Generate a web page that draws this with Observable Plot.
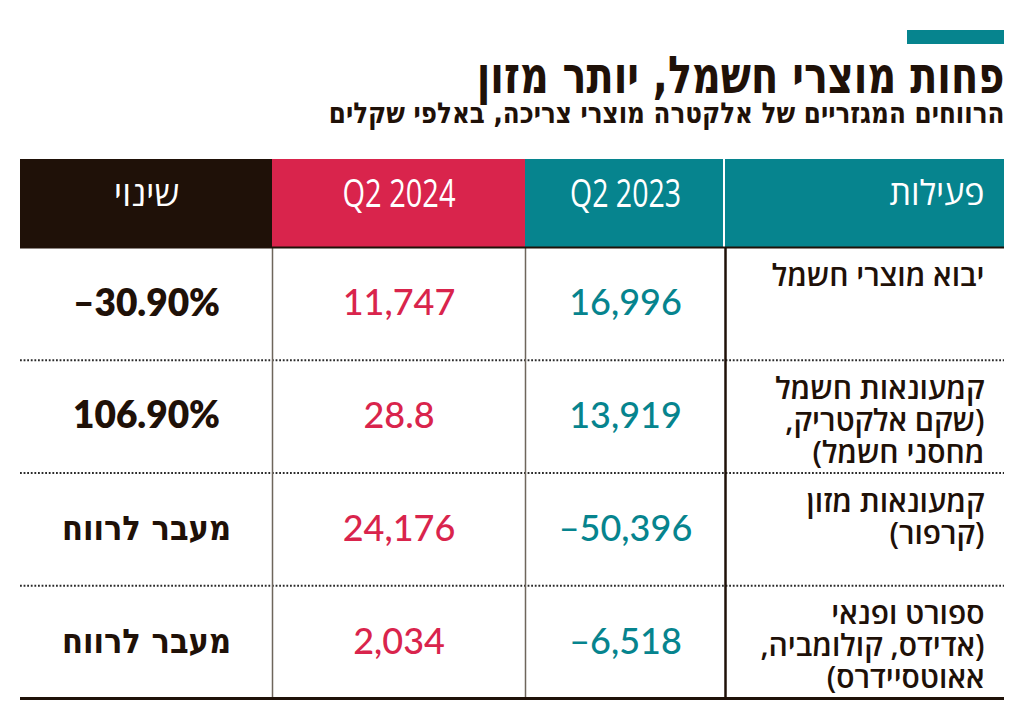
<!DOCTYPE html>
<html><head><meta charset="utf-8">
<script src="https://cdn.jsdelivr.net/npm/d3@7"></script>
<script src="https://cdn.jsdelivr.net/npm/@observablehq/plot@0.6"></script>
<style>body{margin:0;background:#fff}</style>
</head><body><div id="chart"></div>
<script>
// ---- data ----
const title = "פחות מוצרי חשמל, יותר מזון";
const subtitle = "הרווחים המגזריים של אלקטרה מוצרי צריכה, באלפי שקלים";
const headers = ["שינוי", "Q2 2024", "Q2 2023", "פעילות"]; // left → right
const activities = [
  "יבוא מוצרי חשמל",
  "קמעונאות חשמל\n(שקם אלקטריק,\nמחסני חשמל)",
  "קמעונאות מזון\n(קרפור)",
  "ספורט ופנאי\n(אדידס, קולומביה,\nאאוטסיידרס)"
];
const q2_2023 = [16996, 13919, -50396, -6518];
const q2_2024 = [11747, 28.8, 24176, 2034];
const change = ["–30.90%", "106.90%", "מעבר לרווח", "מעבר לרווח"];

// ---- layout & style ----
const W = 1024, H = 719;
const colEdges = [20, 272, 525, 725, 1004];
const headTop = 159, headBottom = 247, tableBottom = 698;
const TEAL = "#06848e", RED = "#d9244c", DARK = "#1f1108", GRAY = "#6e665c";
const headFill = [DARK, RED, TEAL, TEAL];
const HEB = "'Open Sans', 'DejaVu Sans', sans-serif";
const HEBC = "'DejaVu Sans Condensed', 'DejaVu Sans', sans-serif";
const NUM = "Lato, 'Open Sans', sans-serif";

const isHeb = s => /[\u0590-\u05FF]/.test(s);
const rtl = s => isHeb(s) ? s.split("\n").map(l => "\u200F" + l + "\u200F").join("\n") : s;
const fmt = v => (Number.isInteger(v) ? d3.format(",")(v) : String(v)).replace("−", "–");
const row = d3.scaleBand().domain(d3.range(activities.length)).range([headBottom, tableBottom]);
const colMid = i => (colEdges[i] + colEdges[i + 1]) / 2;

const headerCells = headers.map((h, i) => ({
  text: h, i, x1: colEdges[i], x2: colEdges[i + 1] - (i === 2 ? 2 : 0),
  fill: headFill[i], tx: i === 3 ? colEdges[4] - 20 : colMid(i)
}));
const rows = activities.map((a, r) => ({
  label: a, v23: q2_2023[r], v24: q2_2024[r], change: change[r],
  top: row(r), mid: row(r) + row.bandwidth() / 2
}));
const dividers = rows.slice(1).map(d => d.top);
const pctRows = rows.filter(d => !isHeb(d.change));
const hebRows = rows.filter(d => isHeb(d.change));

const chart = Plot.plot({
  width: W, height: H, margin: 0,
  x: {domain: [0, W], range: [0, W], axis: null},
  y: {domain: [0, H], range: [0, H], axis: null},
  style: {background: "#fff", fontFamily: HEB},
  marks: [
    // title block
    Plot.rect([0], {x1: 907, x2: 1004, y1: 30, y2: 44, fill: TEAL}),
    Plot.text([title], {x: 1004, y: 92, text: d => rtl(d), textAnchor: "end", lineAnchor: "bottom",
      fontSize: 52, fontWeight: 800, fontFamily: HEBC, fill: DARK}),
    Plot.text([subtitle], {x: 1004, y: 122, text: d => rtl(d), textAnchor: "end", lineAnchor: "bottom",
      fontSize: 29, fontWeight: 800, fontFamily: HEBC, fill: DARK}),
    // header
    Plot.rect(headerCells, {x1: "x1", x2: "x2", y1: headTop, y2: headBottom, fill: "fill"}),
    Plot.text(headerCells.filter(d => d.i < 3), {x: "tx", y: 194, text: d => rtl(d.text),
      textAnchor: "middle", lineAnchor: "middle",
      fontSize: d => isHeb(d.text) ? 35 : 38, fill: "#fff"}),
    Plot.text(headerCells.filter(d => d.i === 3), {x: "tx", y: 194, text: d => rtl(d.text),
      textAnchor: "end", lineAnchor: "middle", fontSize: 34, fill: "#fff"}),
    // grid
    Plot.ruleY(dividers, {x1: colEdges[0], x2: colEdges[4], stroke: "#2a2a2a", strokeWidth: 1.8, strokeDasharray: "1.8,1.8"}),
    Plot.ruleX([colEdges[1], colEdges[2]], {y1: headBottom, y2: tableBottom, stroke: GRAY, strokeWidth: 1.5}),
    Plot.ruleX([colEdges[3]], {y1: headBottom, y2: tableBottom, stroke: DARK, strokeWidth: 2.5}),
    Plot.ruleY([headBottom], {x1: colEdges[0], x2: colEdges[4], stroke: DARK, strokeWidth: 2}),
    Plot.ruleY([tableBottom], {x1: colEdges[0], x2: colEdges[4], stroke: DARK, strokeWidth: 3}),
    // body
    Plot.text(rows, {x: colEdges[4] - 20, y: d => d.top + 16, text: d => rtl(d.label),
      textAnchor: "end", lineAnchor: "top", lineHeight: 32 / 30,
      fontSize: 30, fontWeight: 600, fontFamily: HEB, fill: DARK}),
    Plot.text(rows, {x: colMid(2), y: "mid", text: d => fmt(d.v23), textAnchor: "middle", lineAnchor: "middle",
      fontSize: 36, fontWeight: 500, fontFamily: NUM, fill: TEAL}),
    Plot.text(rows, {x: colMid(1), y: "mid", text: d => fmt(d.v24), textAnchor: "middle", lineAnchor: "middle",
      fontSize: 36, fontWeight: 500, fontFamily: NUM, fill: RED}),
    Plot.text(pctRows, {x: colMid(0), y: "mid", text: "change", textAnchor: "middle", lineAnchor: "middle",
      fontSize: 37, fontWeight: 800, fontFamily: NUM, fill: DARK}),
    Plot.text(hebRows, {x: colMid(0), y: "mid", text: d => rtl(d.change), textAnchor: "middle", lineAnchor: "middle",
      fontSize: 34, fontWeight: 800, fontFamily: HEBC, fill: DARK})
  ]
});
document.getElementById("chart").append(chart);

// condense a few texts horizontally to the reference's widths (about their anchor point)
const targetWidth = {[title]: 528, [subtitle]: 676, "Q2 2024": 113, "Q2 2023": 111};
d3.select(chart).selectAll("text").each(function () {
  const t = this.textContent.replace(/\u200F/g, "");
  const target = targetWidth[t];
  if (!target) return;
  const w = this.getBBox().width;
  if (w > 0) this.setAttribute("transform", (this.getAttribute("transform") || "") + ` scale(${target / w},1)`);
});
</script>
</body></html>
